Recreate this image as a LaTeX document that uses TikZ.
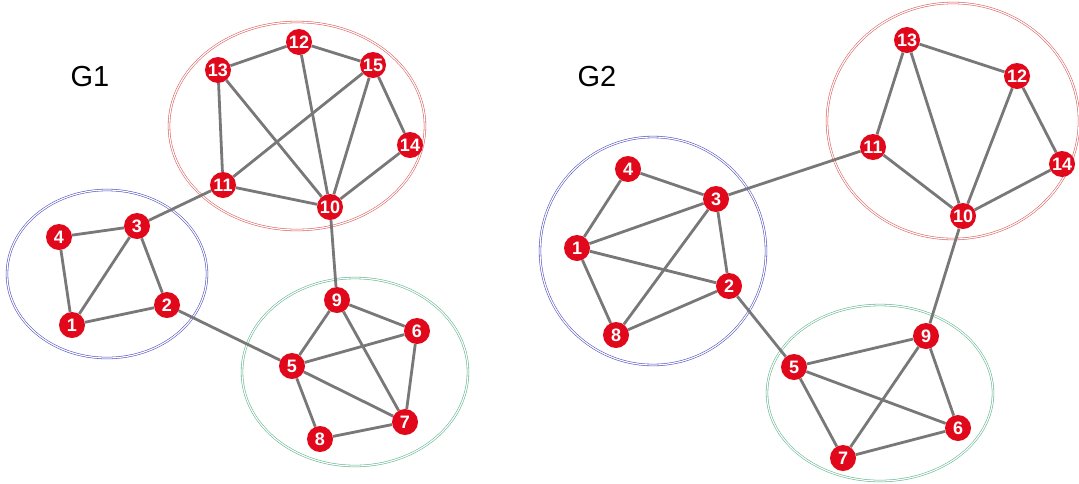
\documentclass[tikz,border=0pt]{standalone}
\usepackage{fontspec}
\setmainfont{Liberation Sans}
\usetikzlibrary{backgrounds}
\definecolor{nodered}{HTML}{E0081A}
\definecolor{edgegray}{HTML}{787878}
\definecolor{ringred}{HTML}{DC5A5A}
\definecolor{ringblue}{HTML}{4B4BC0}
\definecolor{ringgreen}{HTML}{5DB48C}
\tikzset{
  vtx/.style={circle,fill=nodered,text=white,minimum size=26pt,inner sep=0pt,
    font=\fontsize{18}{18}\selectfont\bfseries},
  edge/.style={draw=edgegray,line width=2.8pt},
  ring/.style={draw=#1,line width=0.55pt,double=white,double distance=1.2pt},
  title/.style={font=\fontsize{29}{29}\selectfont}
}
\begin{document}
\begin{tikzpicture}[x=1pt,y=-1pt]
\useasboundingbox (0,0) rectangle (1079,483);
% ---------- G1 ----------
\node[title] (t1) at (90,77) {G1};
\node[vtx] (a1) at (72,325) {1};
\node[vtx] (a2) at (167,305) {2};
\node[vtx] (a3) at (137,226) {3};
\node[vtx] (a4) at (59,237) {4};
\node[vtx] (a5) at (292,366) {5};
\node[vtx] (a6) at (417,331) {6};
\node[vtx] (a7) at (405,422) {7};
\node[vtx] (a8) at (320,439) {8};
\node[vtx] (a9) at (337,300) {9};
\node[vtx] (a10) at (330,207) {10};
\node[vtx] (a11) at (223,185) {11};
\node[vtx] (a12) at (299,42) {12};
\node[vtx] (a13) at (218,70) {13};
\node[vtx] (a14) at (410,145) {14};
\node[vtx] (a15) at (373,65) {15};
% ---------- G2 ----------
\node[title] (t2) at (597,77) {G2};
\node[vtx] (b1) at (577,248) {1};
\node[vtx] (b2) at (729,286) {2};
\node[vtx] (b3) at (716,199) {3};
\node[vtx] (b4) at (628,169) {4};
\node[vtx] (b5) at (794,367) {5};
\node[vtx] (b6) at (958,428) {6};
\node[vtx] (b7) at (843,458) {7};
\node[vtx] (b8) at (616,335) {8};
\node[vtx] (b9) at (926,336) {9};
\node[vtx] (b10) at (963,216) {10};
\node[vtx] (b11) at (873,147) {11};
\node[vtx] (b12) at (1017,76) {12};
\node[vtx] (b13) at (907,40) {13};
\node[vtx] (b14) at (1062,164) {14};
\begin{scope}[on background layer]
% rings
\draw[ring=ringred] (297,126) ellipse [x radius=128, y radius=104];
\draw[ring=ringblue] (107,274) ellipse [x radius=100, y radius=84];
\draw[ring=ringgreen] (355,372) ellipse [x radius=113, y radius=94];
\draw[ring=ringred] (953,121) ellipse [x radius=126, y radius=118];
\draw[ring=ringblue] (653,251) ellipse [x radius=113, y radius=114];
\draw[ring=ringgreen] (880,393) ellipse [x radius=113, y radius=88];
% edges G1
\foreach \u/\v in {13/12,12/15,13/11,13/10,12/10,15/11,15/10,15/14,14/10,11/10,11/3,10/9,4/3,4/1,3/1,3/2,1/2,2/5,9/5,9/6,9/7,5/6,5/7,5/8,6/7,8/7}
  \draw[edge] (a\u) -- (a\v);
% edges G2
\foreach \u/\v in {13/12,13/11,13/10,12/10,12/14,11/10,14/10,11/3,4/3,4/1,3/1,3/8,3/2,1/2,1/8,8/2,2/5,10/9,9/5,9/6,9/7,5/7,5/6,7/6}
  \draw[edge] (b\u) -- (b\v);
\end{scope}
\end{tikzpicture}
\end{document}
